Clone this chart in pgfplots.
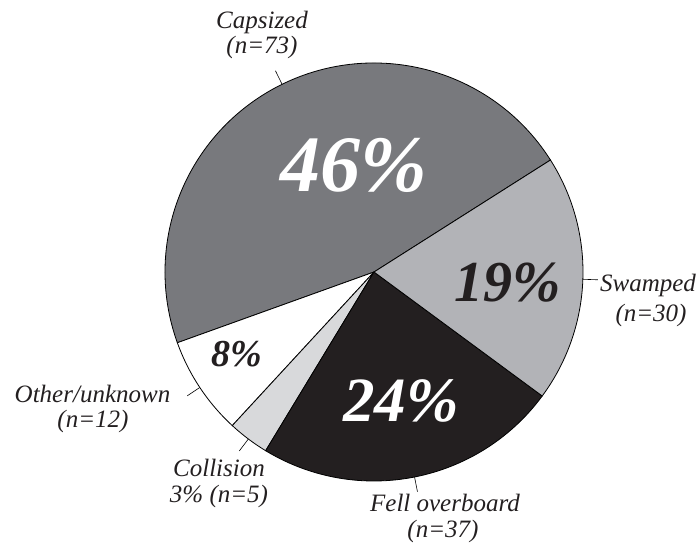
\documentclass[border=0pt]{standalone}
\usepackage{pgfplots}
\pgfplotsset{compat=1.18}
\usepackage{pgfplotstable}
\usepackage{fontspec}
\setmainfont{Liberation Serif}
\definecolor{capc}{RGB}{120,121,125}
\definecolor{swac}{RGB}{178,179,183}
\definecolor{felc}{RGB}{35,31,32}
\definecolor{colc}{RGB}{216,217,219}
\definecolor{othc}{RGB}{255,255,255}
\definecolor{txt}{RGB}{35,31,32}
\pgfplotstableread{
label count
Capsized 73
Other 12
Collision 5
Fell 37
Swamped 30
}\slices
\newcommand\lab[1]{\fontsize{25bp}{28bp}\selectfont\itshape #1}
\newcommand\bigpct[2]{\fontsize{#1}{#1}\selectfont\bfseries\itshape #2}
\begin{document}
\begin{tikzpicture}
\pgfplotstablegetelem{0}{count}\of\slices \let\nA\pgfplotsretval
\pgfplotstablegetelem{1}{count}\of\slices \let\nB\pgfplotsretval
\pgfplotstablegetelem{2}{count}\of\slices \let\nC\pgfplotsretval
\pgfplotstablegetelem{3}{count}\of\slices \let\nD\pgfplotsretval
\pgfplotstablegetelem{4}{count}\of\slices \let\nE\pgfplotsretval
\pgfmathsetmacro\tot{\nA+\nB+\nC+\nD+\nE}
\pgfmathsetmacro\unit{360/\tot}
\pgfmathsetmacro\sA{32.4}
\pgfmathsetmacro\eA{\sA+\unit*\nA}
\pgfmathsetmacro\eB{\eA+\unit*\nB}
\pgfmathsetmacro\eC{\eB+\unit*\nC}
\pgfmathsetmacro\eD{\eC+\unit*\nD}
\pgfmathsetmacro\eE{\eD+\unit*\nE}
\pgfmathsetmacro\mA{(\sA+\eA)/2}
\pgfmathsetmacro\mB{(\eA+\eB)/2}
\pgfmathsetmacro\mC{(\eB+\eC)/2}
\pgfmathsetmacro\mD{(\eC+\eD)/2}
\pgfmathsetmacro\mE{(\eD+\eE)/2}
\begin{axis}[width=698bp,height=544bp,scale only axis,
  xmin=0,xmax=698,ymin=0,ymax=544,hide axis,clip=false,enlargelimits=false]
\coordinate (ll) at (axis cs:0,0);
\coordinate (ur) at (axis cs:698,544);
\filldraw[fill=capc,draw=black,line width=0.8bp] (axis cs:374,272) -- ++(\sA:209bp) arc[start angle=\sA,end angle=\eA,radius=209bp] -- cycle;
\filldraw[fill=othc,draw=black,line width=0.8bp] (axis cs:374,272) -- ++(\eA:209bp) arc[start angle=\eA,end angle=\eB,radius=209bp] -- cycle;
\filldraw[fill=colc,draw=black,line width=0.8bp] (axis cs:374,272) -- ++(\eB:209bp) arc[start angle=\eB,end angle=\eC,radius=209bp] -- cycle;
\filldraw[fill=felc,draw=black,line width=0.8bp] (axis cs:374,272) -- ++(\eC:209bp) arc[start angle=\eC,end angle=\eD,radius=209bp] -- cycle;
\filldraw[fill=swac,draw=black,line width=0.8bp] (axis cs:374,272) -- ++(\eD:209bp) arc[start angle=\eD,end angle=\eE,radius=209bp] -- cycle;
% leader ticks
\draw[line width=0.6bp] (axis cs:374,272) ++(\mA:209bp) -- ++(\mA:15bp);
\draw[line width=0.6bp] (axis cs:374,272) ++(\mB:209bp) -- ++(\mB:15bp);
\draw[line width=0.6bp] (axis cs:374,272) ++(\mC:209bp) -- ++(\mC:15bp);
\draw[line width=0.6bp] (axis cs:374,272) ++(\mD:209bp) -- ++(\mD:15bp);
\draw[line width=0.6bp] (axis cs:374,272) ++(\mE:209bp) -- ++(\mE:15bp);
% labels
\node[anchor=base,text=txt,inner sep=0] at (axis cs:262,515) {\lab{Capsized}};
\node[anchor=base,text=txt,inner sep=0] at (axis cs:262,490) {\lab{(n=73)}};
\node[anchor=base,text=txt,inner sep=0] at (axis cs:648,252) {\lab{Swamped}};
\node[anchor=base,text=txt,inner sep=0] at (axis cs:651,222) {\lab{(n=30)}};
\node[anchor=base,text=txt,inner sep=0] at (axis cs:445,32) {\lab{Fell overboard}};
\node[anchor=base,text=txt,inner sep=0] at (axis cs:443,7) {\lab{(n=37)}};
\node[anchor=base,text=txt,inner sep=0] at (axis cs:219,67) {\lab{Collision}};
\node[anchor=base,text=txt,inner sep=0] at (axis cs:219,41) {\lab{3\% (n=5)}};
\node[anchor=base,text=txt,inner sep=0] at (axis cs:92.5,141) {\lab{Other/unknown}};
\node[anchor=base,text=txt,inner sep=0] at (axis cs:93,116) {\lab{(n=12)}};
% big percentages
\node[anchor=base,text=white,inner sep=0] at (axis cs:354,352) {\bigpct{80bp}{46\%}};
\node[anchor=base,text=white,inner sep=0] at (axis cs:401,122) {\bigpct{63bp}{24\%}};
\node[anchor=base,text=txt,inner sep=0] at (axis cs:508,242) {\bigpct{58bp}{19\%}};
\node[anchor=base,text=txt,inner sep=0] at (axis cs:237,177) {\bigpct{38bp}{8\%}};
\end{axis}
\pgfresetboundingbox
\useasboundingbox (ll) rectangle (ur);
\end{tikzpicture}
\end{document}
